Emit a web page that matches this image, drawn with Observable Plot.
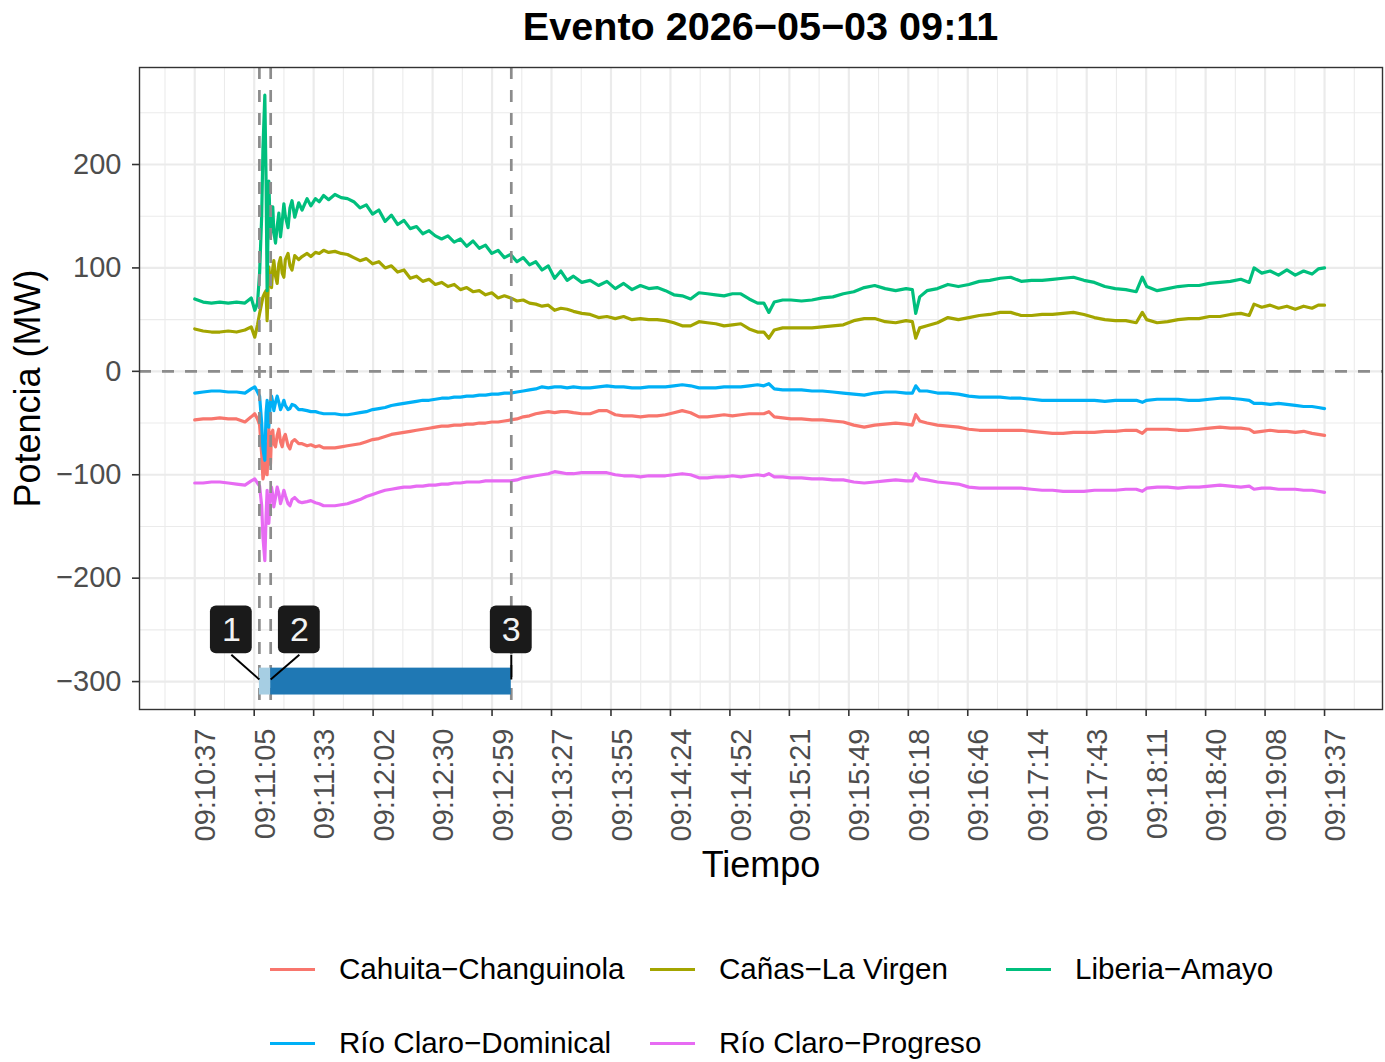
<!DOCTYPE html>
<html>
<head>
<meta charset="utf-8">
<script src="https://cdn.jsdelivr.net/npm/d3@7"></script>
<script src="https://cdn.jsdelivr.net/npm/@observablehq/plot@0.6"></script>
<style>
  html, body { margin: 0; padding: 0; background: #fff; }
  body { width: 1385px; height: 1062px; position: relative; overflow: hidden;
         font-family: "Liberation Sans", Arial, Helvetica, sans-serif; }
  #title { position: absolute; left: 139px; width: 1243px; top: 4px; text-align: center;
           font-weight: bold; font-size: 39.6px; line-height: 44px; color: #000; }
  #chart { position: absolute; left: 0; top: 0; }
  .leg { position: absolute; display: flex; align-items: center; font-size: 29.6px; color: #000; white-space: nowrap; }
  .leg .key { width: 45px; height: 3px; margin-right: 24px; }
</style>
</head>
<body>
<div id="title">Evento 2026−05−03 09:11</div>
<div id="chart"></div>
<div id="legend"></div>
<script>
// ---------- data (seconds after 09:10:37) ----------
const timeSec = [
  0, 4, 8, 12, 16, 20, 24, 27,
  28.7, 30, 31, 32, 32.6, 33.5, 34.1, 34.6, 35.4, 36.2,
  36.7, 37.3, 37.8, 38.6, 39.4, 40.2, 41, 41.8, 42.6, 43.3,
  44.6, 45.5, 46.5, 47.8, 49.7, 51.3, 53.7, 55.5, 57.7, 59.5,
  61.6, 64, 67, 70, 73, 76, 79, 82, 85, 88,
  91, 94, 97, 100, 103, 106, 109, 112, 115, 118,
  121, 124, 127, 130, 133, 136, 139, 142, 145, 148,
  151, 154, 157, 160, 163, 166, 169, 172, 175, 178,
  181, 185, 189, 193, 197, 201, 205, 209, 213, 217,
  221, 225, 229, 233, 237, 241, 245, 249, 253, 257,
  261, 265, 269, 272, 274.4, 277, 281, 285, 290, 295,
  300, 305, 310, 315, 320, 325, 330, 335, 340, 343,
  344.6, 346.5, 350, 355, 360, 365, 370, 375, 380, 385,
  390, 395, 400, 405, 410, 415, 420, 425, 430, 435,
  440, 445, 450, 452.9, 455, 460, 465, 470, 475, 480,
  485, 490, 495, 500, 504, 506.3, 510, 514, 518, 522,
  526, 530, 534, 537, 540
];

const cahuitaChanguinola = [
  -47, -46, -46, -45, -46, -46, -49, -44,
  -41, -46, -52, -80, -104, -95, -70, -100, -55, -90,
  -60, -57, -70, -73, -62, -56, -68, -73, -64, -61,
  -72, -75, -68, -66, -70, -70, -72, -71, -73, -72,
  -74, -74, -74, -73, -72, -71, -70, -68, -66, -65,
  -63, -61, -60, -59, -58, -57, -56, -55, -54, -53,
  -53, -52, -52, -51, -51, -50, -50, -49, -49, -48,
  -47, -46, -44, -43, -41, -40, -39, -40, -39, -39,
  -40, -41, -41, -38, -38, -42, -43, -43, -44, -43,
  -43, -42, -40, -38, -40, -44, -44, -43, -42, -43,
  -42, -41, -41, -41, -39, -44, -45, -46, -46, -47,
  -47, -48, -49, -52, -54, -52, -51, -50, -51, -52,
  -42, -48, -50, -52, -53, -54, -56, -57, -57, -57,
  -57, -57, -58, -59, -60, -60, -59, -59, -59, -58,
  -58, -57, -57, -60, -56, -56, -56, -57, -57, -56,
  -55, -54, -55, -55, -56, -59, -58, -57, -58, -58,
  -59, -58, -60, -61, -62
];

const canasLaVirgen = [
  41, 39, 38, 38, 39, 38, 40, 43,
  33, 45, 56, 66, 72, 76, 78, 49, 101, 85,
  81, 100, 107, 92, 85, 104, 110, 95, 91, 108,
  114, 102, 98, 112, 108, 111, 114, 111, 115, 114,
  117, 115, 116, 114, 113, 110, 107, 109, 104, 106,
  100, 102, 96, 98, 90, 92, 87, 89, 84, 86,
  82, 84, 79, 81, 77, 78, 74, 76, 71, 73,
  71, 68, 69, 66, 65, 63, 64, 59, 61, 60,
  58, 56, 55, 52, 53, 51, 53, 50, 51, 50,
  50, 49, 47, 44, 44, 48, 47, 46, 44, 45,
  46, 41, 38, 38, 32, 40, 42, 42, 42, 42,
  43, 44, 45, 49, 51, 51, 48, 47, 49, 48,
  32, 42, 44, 47, 52, 50, 52, 54, 55, 57,
  57, 54, 54, 55, 55, 56, 57, 55, 52, 50,
  49, 49, 47, 57, 50, 47, 48, 50, 51, 51,
  53, 53, 55, 56, 54, 65, 62, 64, 61, 63,
  60, 63, 61, 64, 64
];

const liberiaAmayo = [
  70, 67, 66, 67, 66, 67, 66, 71,
  59, 66, 95, 150, 215, 267, 184, 78, 184, 130,
  150, 159, 135, 124, 140, 153, 130, 145, 162, 150,
  139, 158, 165, 149, 163, 156, 167, 160, 167, 164,
  170, 166, 171, 168, 167, 164, 158, 161, 152, 156,
  145, 151, 142, 146, 138, 140, 133, 136, 131, 128,
  131, 125, 128, 121, 126, 119, 122, 114, 117, 110,
  113, 106, 110, 103, 106, 98, 102, 90, 97, 88,
  92, 86, 88, 83, 87, 80, 85, 79, 83, 80,
  81, 78, 74, 73, 70, 76, 75, 74, 73, 75,
  75, 70, 66, 66, 57, 67, 69, 69, 68, 69,
  71, 72, 75, 77, 81, 83, 80, 78, 80, 79,
  56, 72, 78, 80, 84, 82, 84, 87, 88, 90,
  91, 87, 88, 88, 89, 90, 91, 88, 86, 82,
  80, 79, 77, 91, 82, 78, 80, 82, 83, 83,
  85, 86, 87, 89, 86, 100, 95, 97, 93, 98,
  93, 97, 94, 99, 100
];

const rioClaroDominical = [
  -21, -20, -19, -19, -20, -20, -21, -17,
  -15, -20, -24, -50, -75, -86, -40, -28, -54, -30,
  -24, -30, -38, -30, -24, -30, -37, -33, -28, -33,
  -37, -36, -32, -33, -37, -37, -38, -39, -39, -40,
  -41, -41, -41, -42, -42, -41, -40, -39, -37, -36,
  -35, -33, -32, -31, -30, -29, -28, -28, -27, -26,
  -26, -25, -25, -24, -24, -23, -23, -22, -22, -21,
  -21, -20, -19, -18, -17, -15, -16, -15, -15, -16,
  -15, -16, -16, -15, -14, -15, -15, -16, -16, -15,
  -15, -15, -14, -13, -14, -16, -16, -16, -15, -15,
  -15, -14, -13, -14, -12, -17, -18, -18, -18, -19,
  -19, -20, -21, -22, -23, -21, -20, -20, -21, -21,
  -14, -19, -19, -21, -21, -22, -24, -25, -25, -25,
  -26, -26, -27, -28, -28, -28, -28, -28, -28, -29,
  -28, -28, -28, -30, -28, -27, -27, -27, -28, -28,
  -27, -26, -26, -27, -28, -31, -31, -32, -31, -32,
  -33, -34, -34, -35, -36
];

const rioClaroProgreso = [
  -108, -108, -107, -107, -108, -109, -110, -106,
  -104, -108, -111, -130, -160, -183, -140, -115, -147, -120,
  -112, -120, -131, -122, -112, -118, -128, -122, -115, -120,
  -128, -130, -124, -122, -126, -127, -126, -125, -127, -128,
  -130, -130, -130, -129, -128, -126, -124, -121, -119, -117,
  -115, -114, -113, -112, -112, -111, -111, -110, -110, -109,
  -109, -108, -108, -107, -107, -107, -106, -106, -106, -106,
  -106, -105, -103, -102, -101, -100, -99, -97, -98, -99,
  -99, -98, -98, -98, -98, -100, -101, -101, -102, -101,
  -101, -101, -100, -99, -100, -103, -103, -102, -102, -101,
  -102, -101, -100, -101, -99, -102, -102, -103, -103, -104,
  -104, -105, -105, -107, -108, -107, -106, -105, -106, -106,
  -99, -104, -105, -107, -108, -109, -112, -113, -113, -113,
  -113, -113, -114, -115, -115, -116, -116, -116, -115, -115,
  -115, -114, -114, -116, -113, -112, -112, -113, -112, -112,
  -111, -110, -111, -112, -111, -114, -113, -113, -114, -114,
  -114, -115, -115, -116, -117
];

const seriesNames = ["Cahuita−Changuinola", "Cañas−La Virgen", "Liberia−Amayo", "Río Claro−Dominical", "Río Claro−Progreso"];
const seriesValues = [cahuitaChanguinola, canasLaVirgen, liberiaAmayo, rioClaroDominical, rioClaroProgreso];
const seriesColors = ["#F8766D", "#A3A500", "#00BF7D", "#00B0F6", "#E76BF3"];

const xTickLabels = ["09:10:37","09:11:05","09:11:33","09:12:02","09:12:30","09:12:59","09:13:27","09:13:55","09:14:24","09:14:52",
                     "09:15:21","09:15:49","09:16:18","09:16:46","09:17:14","09:17:43","09:18:11","09:18:40","09:19:08","09:19:37"];
const yTicks = [200, 100, 0, -100, -200, -300];

const eventIds = ["1", "2", "3"];
const eventTimes = [30.9, 36.3, 151.3];
const eventLabelTimes = [17.5, 50, 151.3];
const barColors = ["#A6CEE3", "#1F78B4"];

// ---------- build ----------
const rows = [];
seriesNames.forEach((name, s) => {
  timeSec.forEach((t, i) => rows.push({t, v: seriesValues[s][i], s: name}));
});

const span = 540;
const step = span / (xTickLabels.length - 1);
const xTicks = xTickLabels.map((_, k) => k * step);
const labelOf = new Map(xTicks.map((v, k) => [v, xTickLabels[k]]));
const xMinor = d3.range(-1, xTickLabels.length).map(k => (k + 0.5) * step);
const yMinor = [250, 150, 50, -50, -150, -250];

const phases = [
  {x1: eventTimes[0], x2: eventTimes[1], fill: barColors[0]},
  {x1: eventTimes[1], x2: eventTimes[2], fill: barColors[1]}
];
const events = eventIds.map((id, i) => ({id, t: eventTimes[i], lt: eventLabelTimes[i]}));
const barY = -300, barHalf = 13, labY = -250, labHalf = 23, labHalfW = 10;

const fam = '"Liberation Sans", Arial, Helvetica, sans-serif';
const grid = "#EBEBEB";
const dashCol = "#8C8C8C";

const chart = Plot.plot({
  width: 1385,
  height: 900,
  marginLeft: 139,
  marginRight: 3,
  marginTop: 67,
  marginBottom: 191,
  style: {fontFamily: fam, background: "transparent", overflow: "visible"},
  x: {domain: [-26.4, 567.7]},
  y: {domain: [-327, 293.8]},
  color: {domain: seriesNames, range: seriesColors},
  marks: [
    Plot.gridX(xMinor, {stroke: grid, strokeOpacity: 1, strokeWidth: 1.1}),
    Plot.gridY(yMinor, {stroke: grid, strokeOpacity: 1, strokeWidth: 1.1}),
    Plot.gridX(xTicks, {stroke: grid, strokeOpacity: 1, strokeWidth: 2.2}),
    Plot.gridY(yTicks, {stroke: grid, strokeOpacity: 1, strokeWidth: 2.2}),
    Plot.line(rows, {x: "t", y: "v", z: "s", stroke: "s", strokeWidth: 3.2, strokeLinejoin: "round"}),
    Plot.ruleY([0], {stroke: dashCol, strokeWidth: 2.7, strokeDasharray: "12,11"}),
    Plot.ruleX(eventTimes, {stroke: dashCol, strokeWidth: 2.7, strokeDasharray: "12,11"}),
    Plot.rect(phases, {x1: "x1", x2: "x2", y1: barY - barHalf, y2: barY + barHalf, fill: "fill"}),
    Plot.link(events, {x1: "lt", y1: labY - labHalf - 1, x2: "t", y2: barY + 2, stroke: "#000", strokeWidth: 2}),
    Plot.rect(events, {x1: d => d.lt - labHalfW, x2: d => d.lt + labHalfW, y1: labY - labHalf, y2: labY + labHalf, fill: "#1a1a1a", rx: 6}),
    Plot.text(events, {x: "lt", y: labY, text: "id", fill: "#f2f2f2", fontSize: 34, fontFamily: fam}),
    Plot.frame({stroke: "#333333", strokeWidth: 1.4}),
    Plot.axisY(yTicks, {tickSize: 7, tickPadding: 11, fontSize: 29, fill: "#4D4D4D", stroke: "#333333", strokeWidth: 1.6,
      tickFormat: d => d < 0 ? "−" + Math.abs(d) : String(d), label: null}),
    Plot.axisX(xTicks, {tickSize: 7, tickPadding: 12, tickRotate: -90, lineAnchor: "top", fontSize: 29, fill: "#4D4D4D",
      stroke: "#333333", strokeWidth: 1.6, tickFormat: d => labelOf.get(d), label: null}),
    Plot.text(["Potencia (MW)"], {frameAnchor: "left", dx: -111, rotate: -90, textAnchor: "middle", lineAnchor: "middle",
      fontSize: 36, fill: "#000", fontFamily: fam}),
    Plot.text(["Tiempo"], {frameAnchor: "bottom", dy: 156, textAnchor: "middle", lineAnchor: "middle",
      fontSize: 36, fill: "#000", fontFamily: fam})
  ]
});
document.getElementById("chart").appendChild(chart);

// ---------- legend ----------
const legendPos = [
  {left: 270, top: 969}, {left: 650, top: 969}, {left: 1006, top: 969},
  {left: 270, top: 1043}, {left: 650, top: 1043}
];
const legend = document.getElementById("legend");
seriesNames.forEach((name, i) => {
  const item = document.createElement("div");
  item.className = "leg";
  item.style.left = legendPos[i].left + "px";
  item.style.top = (legendPos[i].top - 17) + "px";
  item.style.height = "34px";
  const key = document.createElement("div");
  key.className = "key";
  key.style.background = seriesColors[i];
  const lab = document.createElement("span");
  lab.textContent = name;
  item.appendChild(key);
  item.appendChild(lab);
  legend.appendChild(item);
});
</script>
</body>
</html>
